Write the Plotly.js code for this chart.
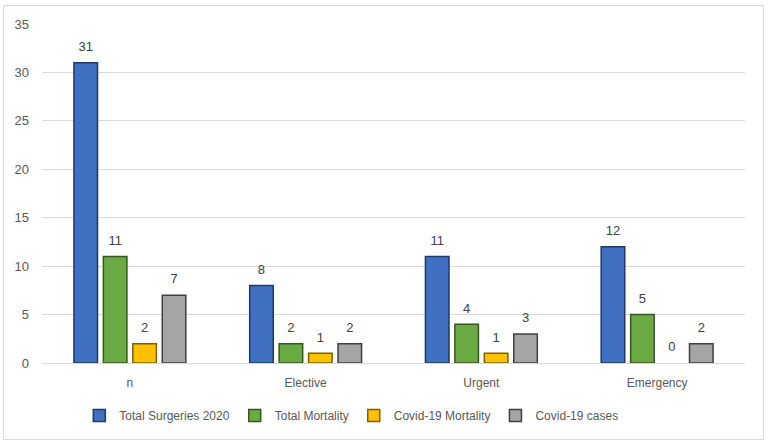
<!DOCTYPE html>
<html>
<head>
<meta charset="utf-8">
<script src="https://cdn.plot.ly/plotly-3.0.1.min.js"></script>
<style>
html,body{margin:0;padding:0;background:#fff;}
#frame{position:absolute;left:3px;top:5px;width:761px;height:435px;border:1px solid #d9d9d9;box-sizing:border-box;}
#chart{position:absolute;left:0;top:0;width:771px;height:447px;}
</style>
</head>
<body>
<div id="frame"></div>
<div id="chart"></div>
<script>
const categories = ["n", "Elective", "Urgent", "Emergency"];
const totalSurgeries = [31, 8, 11, 12];
const totalMortality = [11, 2, 4, 5];
const covidMortality = [2, 1, 1, 0];
const covidCases = [7, 2, 3, 2];
const seriesNames = ["Total Surgeries 2020", "Total Mortality", "Covid-19 Mortality", "Covid-19 cases"];
const yTicks = [0, 5, 10, 15, 20, 25, 30, 35];

const fills = ["#4070c4", "#6aaa42", "#ffc000", "#a5a5a5"];
const edges = ["#1f3864", "#375623", "#7f6000", "#404040"];
const values = [totalSurgeries, totalMortality, covidMortality, covidCases];

const fam = "Liberation Sans, Arial, sans-serif";

const bars = values.map((v, i) => ({
  type: "bar",
  name: seriesNames[i],
  x: categories,
  y: v,
  offsetgroup: "g" + i,
  alignmentgroup: "a",
  marker: {color: fills[i], line: {color: edges[i], width: v.map(d => d > 0 ? 1.5 : 0)}},
  hoverinfo: "x+y+name"
}));

const labels = values.map((v, i) => ({
  type: "scatter",
  mode: "markers+text",
  x: categories,
  y: v,
  text: v.map(String),
  textposition: "top center",
  textfont: {family: fam, size: 13, color: "#404040"},
  marker: {size: 12, color: "rgba(0,0,0,0)"},
  cliponaxis: false,
  showlegend: false,
  hoverinfo: "skip",
  offsetgroup: "g" + i,
  alignmentgroup: "a"
}));

const layout = {
  width: 771,
  height: 447,
  margin: {l: 42, r: 26, t: 24, b: 84},
  paper_bgcolor: "rgba(0,0,0,0)",
  plot_bgcolor: "rgba(0,0,0,0)",
  font: {family: fam, size: 12, color: "#595959"},
  barmode: "group",
  scattermode: "group",
  bargap: 0.33,
  scattergap: 0.33,
  bargroupgap: 0.2,
  showlegend: true,
  legend: {
    orientation: "h",
    x: 0.44, xanchor: "center",
    y: -0.155, yanchor: "middle",
    font: {family: fam, size: 12, color: "#595959"},
    itemwidth: 30,
    traceorder: "normal"
  },
  xaxis: {
    type: "category",
    showgrid: false,
    showline: true,
    linecolor: "#d9d9d9",
    ticks: "",
    tickfont: {family: fam, size: 12, color: "#595959"},
    ticklabelstandoff: 9
  },
  yaxis: {
    range: [0, 35],
    tickvals: yTicks,
    ticktext: yTicks.map(String),
    showgrid: true,
    gridcolor: "#d9d9d9",
    zeroline: true,
    zerolinecolor: "#d9d9d9",
    showline: false,
    ticks: "",
    tickfont: {family: fam, size: 13, color: "#595959"},
    ticklabelstandoff: 12
  }
};

Plotly.newPlot("chart", bars.concat(labels), layout, {displayModeBar: false, staticPlot: true});
</script>
</body>
</html>
